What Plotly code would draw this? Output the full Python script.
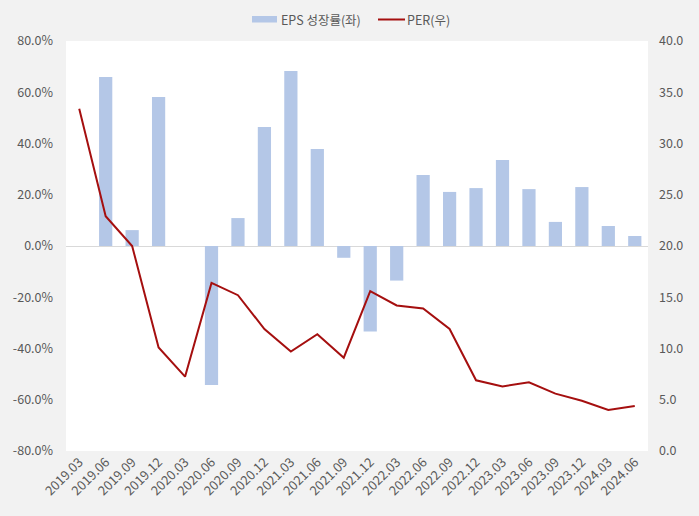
import plotly.graph_objects as go

categories = ["2019.03", "2019.06", "2019.09", "2019.12", "2020.03", "2020.06", "2020.09", "2020.12",
              "2021.03", "2021.06", "2021.09", "2021.12", "2022.03", "2022.06", "2022.09", "2022.12",
              "2023.03", "2023.06", "2023.09", "2023.12", "2024.03", "2024.06"]
eps_growth = [None, 66.0, 6.2, 58.1, None, -54.2, 10.9, 46.4,
              68.3, 37.9, -4.6, -33.4, -13.5, 27.7, 21.1, 22.6,
              33.6, 22.2, 9.4, 23.0, 7.8, 3.9]
per = [33.4, 22.9, 20.0, 10.1, 7.25, 16.4, 15.2, 11.9,
       9.7, 11.4, 9.1, 15.6, 14.2, 13.9, 11.9, 6.9,
       6.3, 6.7, 5.6, 4.9, 4.0, 4.4]
left_ticks = [-80, -60, -40, -20, 0, 20, 40, 60, 80]
left_tick_text = [f"{v:.1f}%" for v in left_ticks]
bar_name = "EPS 성장률(좌)"
line_name = "PER(우)"

W, H = 699, 516
font_family = "'Noto Sans CJK KR', 'Noto Sans', sans-serif"
text_color = "#595959"
bar_color = "#b4c7e7"
line_color = "#a50f0f"

fig = go.Figure()
fig.add_trace(go.Bar(
    x=categories, y=eps_growth, name=bar_name,
    marker=dict(color=bar_color, line=dict(width=0)),
    width=0.5, yaxis="y", showlegend=False,
))
fig.add_trace(go.Scatter(
    x=categories, y=per, name=line_name, mode="lines",
    line=dict(color=line_color, width=2), yaxis="y2", showlegend=False,
))

# manual legend placed relative to the plot area (66..648 x, 41..451 y in pixels)
PL, PW, PB, PH = 66, 582, 451, 410
def dx(x):
    return (x - PL) / PW
def dy(y):
    return (PB - y) / PH

fig.add_shape(type="rect", xref="x domain", yref="y domain",
              x0=dx(252), x1=dx(277), y0=dy(22.5), y1=dy(16),
              fillcolor=bar_color, line=dict(width=0))
fig.add_shape(type="line", xref="x domain", yref="y domain",
              x0=dx(378), x1=dx(405), y0=dy(19.5), y1=dy(19.5),
              line=dict(color=line_color, width=2))
fig.add_annotation(xref="x domain", yref="y domain", x=dx(279), y=dy(19.5),
                   text=bar_name, showarrow=False, xanchor="left", yanchor="middle",
                   font=dict(size=12.5, color=text_color, family=font_family))
fig.add_annotation(xref="x domain", yref="y domain", x=dx(405), y=dy(19.5),
                   text=line_name, showarrow=False, xanchor="left", yanchor="middle",
                   font=dict(size=12.5, color=text_color, family=font_family))

fig.update_layout(
    width=W, height=H,
    margin=dict(l=66, r=51, t=41, b=65),
    paper_bgcolor="#f2f2f2", plot_bgcolor="#ffffff",
    font=dict(family=font_family, size=12, color=text_color),
    showlegend=False,
    bargap=0.5,
    xaxis=dict(type="category", tickangle=-45, showgrid=False, showline=False, ticks="",
               tickfont=dict(size=13, color=text_color)),
    yaxis=dict(range=[-80, 80], tickvals=left_ticks, ticktext=left_tick_text,
               showgrid=False, zeroline=True, zerolinecolor="#d9d9d9", zerolinewidth=1,
               showline=False, ticks="", ticklabelstandoff=12,
               tickfont=dict(size=12.5, color=text_color)),
    yaxis2=dict(range=[0, 40], dtick=5, tickformat=".1f", overlaying="y", side="right",
                showgrid=False, zeroline=False, showline=False, ticks="", ticklabelstandoff=10,
                tickfont=dict(size=12.5, color=text_color)),
)

fig.write_html("out.html")
